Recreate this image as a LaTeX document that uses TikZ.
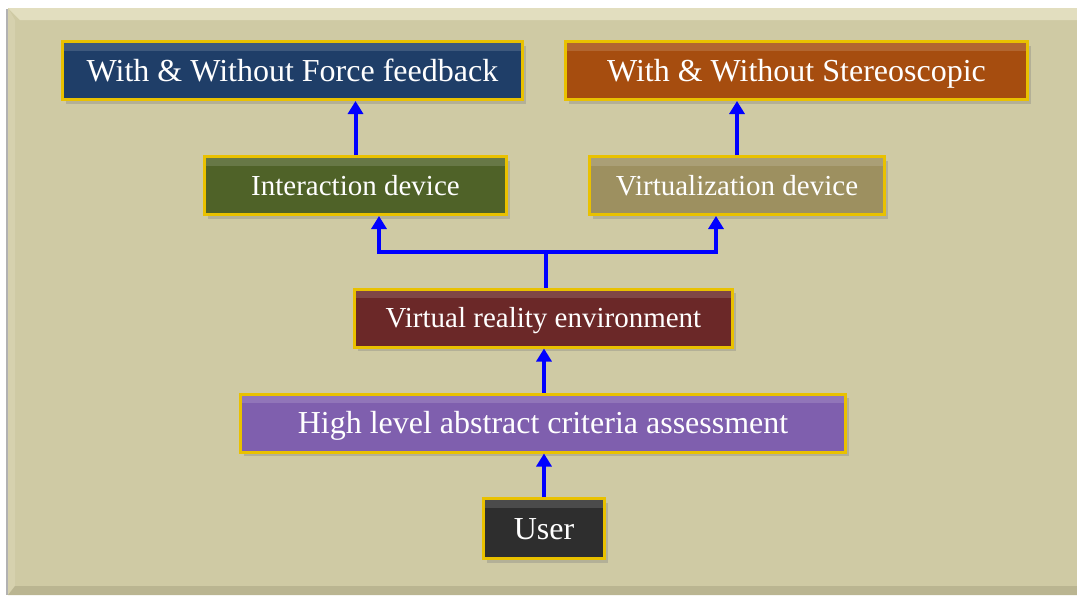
\documentclass[tikz,border=0pt]{standalone}
\usepackage{fontspec}
\setmainfont{Liberation Serif}
\usetikzlibrary{arrows.meta,shadows}

\definecolor{panel}{HTML}{CFCAA4}
\definecolor{panellight}{HTML}{E2DEBF}
\definecolor{panelside}{HTML}{D6D1AE}
\definecolor{panelshade}{HTML}{BAB591}
\definecolor{rim}{HTML}{E9C100}
\definecolor{ffbblue}{HTML}{1F3E68}
\definecolor{stereobrown}{HTML}{A64D0F}
\definecolor{interolive}{HTML}{4F6228}
\definecolor{virtkhaki}{HTML}{9D9060}
\definecolor{vrered}{HTML}{6B2828}
\definecolor{hlacpurple}{HTML}{7F5FAE}
\definecolor{usergrey}{HTML}{2E2E2E}

\begin{document}
\begin{tikzpicture}[x=1pt, y=-1pt,
  box/.style={draw=rim, line width=3pt, text=white, inner sep=0pt, minimum height=58pt,
    drop shadow={opacity=0.35, shadow xshift=3pt, shadow yshift=-4pt},
    path picture={\fill[white,opacity=0.14] (path picture bounding box.north west)
      rectangle ([yshift=-9pt]path picture bounding box.north east);}},
  bigtxt/.style={font=\fontsize{32}{38}\selectfont, text height=21pt, text depth=0pt},
  midtxt/.style={font=\fontsize{29}{35}\selectfont, text height=19pt, text depth=0pt},
  arr/.style={blue, line width=4pt, -{Triangle[length=13pt,width=15pt]}}]

% panel
\fill[white] (0,0) rectangle (1077,595);
\fill[gray!60] (6,9) rectangle (8,595);
\fill[panel] (8,8) rectangle (1077,595);
\fill[panellight] (8,8) -- (1077,8) -- (1077,20) -- (20,20) -- cycle;
\fill[panelside] (8,8) -- (15,20) -- (15,588) -- (8,595) -- cycle;
\fill[panelshade] (8,595) -- (15,586) -- (1077,586) -- (1077,595) -- cycle;

\node[box, bigtxt, fill=ffbblue, minimum width=460pt] (ffb) at (292.5,70.5) {With \& Without Force feedback};
\node[box, bigtxt, fill=stereobrown, minimum width=462pt] (stereo) at (796.5,70.5) {With \& Without Stereoscopic};
\node[box, midtxt, fill=interolive, minimum width=302pt] (inter) at (355.5,185.5) {Interaction device};
\node[box, midtxt, fill=virtkhaki, minimum width=295pt] (virt) at (737,185.5) {Virtualization device};
\node[box, midtxt, fill=vrered, minimum width=378pt] (vre) at (543.5,318) {Virtual reality environment};
\node[box, bigtxt, fill=hlacpurple, minimum width=605pt] (hlac) at (543,423) {High level abstract criteria assessment};
\node[box, bigtxt, fill=usergrey, minimum width=121pt, minimum height=60pt] (user) at (544,528.5) {User};

\coordinate (fork) at (546,252);
\coordinate (lft) at (379,252);
\coordinate (rgt) at (716,252);

\draw[arr] (user.north) -- (user.north |- hlac.south);
\draw[arr] (hlac.north -| user.north) -- (user.north |- vre.south);
\draw[blue, line width=4pt] (vre.north -| fork) -- (fork);
\draw[arr] (fork) -- (lft) -- (lft |- inter.south);
\draw[arr] (fork) -- (rgt) -- (rgt |- virt.south);
\draw[arr] (inter.north) -- (inter.north |- ffb.south);
\draw[arr] (virt.north) -- (virt.north |- stereo.south);

\end{tikzpicture}
\end{document}
